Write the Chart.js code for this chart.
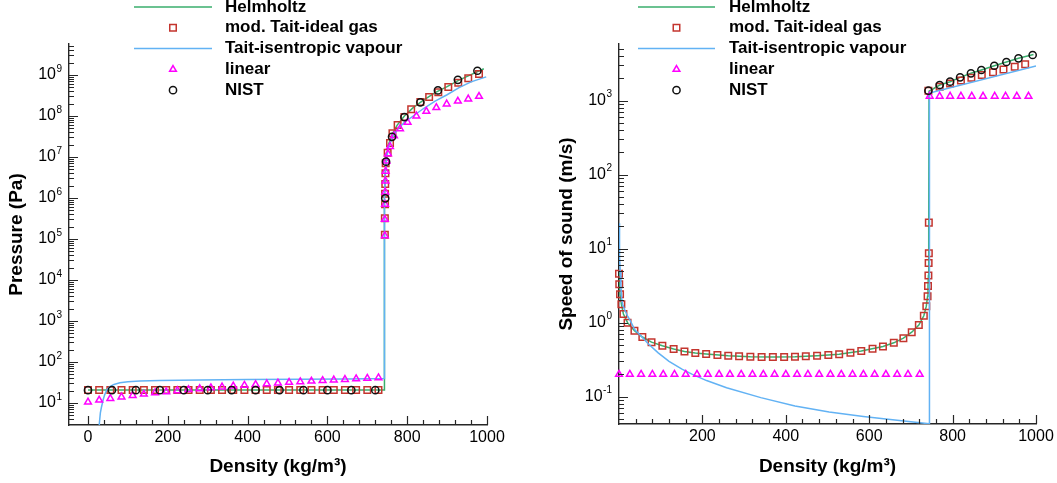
<!DOCTYPE html>
<html>
<head>
<meta charset="utf-8">
<script src="https://cdn.jsdelivr.net/npm/chart.js@4.4.0/dist/chart.umd.min.js"></script>
<style>
  html, body { margin: 0; background: #fff; }
  #wrap { position: relative; width: 1057px; height: 483px; overflow: hidden; }
  canvas { position: absolute; top: 0; }
  #pressure { left: 0; }
  #sound { left: 528px; }
</style>
</head>
<body>
<div id="wrap">
  <canvas id="pressure" width="528" height="483"></canvas>
  <canvas id="sound" width="529" height="483"></canvas>
</div>
<script>
// ---- axis ticks ----
const densityTicksP = [0, 200, 400, 600, 800, 1000];
const densityTicksC = [200, 400, 600, 800, 1000];
const pressureExponents = [1, 2, 3, 4, 5, 6, 7, 8, 9];
const soundExponents = [-1, 0, 1, 2, 3];

// ---- pressure (Pa) vs density (kg/m3) ----
const pHelmRho = [0, 742, 742.5, 743.5, 745, 748, 753, 762, 775, 793, 815, 840, 870, 900, 930, 960, 992];
const pHelm = [20.7, 20.7, 1e5, 1e6, 4e6, 1e7, 2e7, 3.5e7, 6e7, 1e8, 1.6e8, 2.4e8, 3.7e8, 5.2e8, 7.5e8, 1.02e9, 1.42e9];

const pTaitRho = [0, 28, 56, 84, 112, 140, 168, 196, 224, 252, 280, 308, 336, 364, 392, 420, 448, 476, 504, 532,
  560, 588, 616, 644, 672, 700, 728, 744, 744, 744.5, 744.5, 745, 745.5, 746, 751, 757, 763, 776, 793, 810, 833,
  855, 878, 903, 928, 953, 980];
const pTait = [20.7, 20.7, 20.7, 20.7, 20.7, 20.7, 20.7, 20.7, 20.7, 20.7, 20.7, 20.7, 20.7, 20.7, 20.7, 20.7,
  20.7, 20.7, 20.7, 20.7, 20.7, 20.7, 20.7, 20.7, 20.7, 20.7, 20.7, 1.26e5, 3.2e5, 7e5, 1.26e6, 2.2e6, 4e6, 7e6,
  1.26e7, 2.2e7, 3.8e7, 6e7, 9.4e7, 1.45e8, 2.2e8, 2.9e8, 3.8e8, 5.1e8, 6.5e8, 8.3e8, 1.05e9];

const pVapRho = [27.3, 28.5, 31, 34, 38, 42, 47, 55, 65, 80, 100, 130, 180, 281, 400, 531, 650, 742, 742.5, 743.5,
  745, 748, 753, 762, 775, 793, 815, 840, 870, 900, 930, 960, 998];
const pVap = [1.5, 3.2, 5.7, 8.1, 12, 16, 20.7, 25, 28.3, 31, 32.8, 34.2, 35.4, 36.4, 37.2, 37.8, 38.6, 39.5, 1e5,
  1e6, 4e6, 9e6, 1.7e7, 2.8e7, 4.6e7, 7e7, 1e8, 1.5e8, 2.3e8, 3.3e8, 4.9e8, 6.8e8, 9e8];

const pLinRho = [0, 28, 56, 84, 112, 140, 168, 196, 224, 252, 280, 308, 336, 364, 392, 420, 448, 476, 504, 532,
  560, 588, 616, 644, 672, 700, 728, 744, 744, 744.5, 745, 745.5, 746, 748, 752, 757, 767, 782, 801, 823, 848,
  873, 899, 927, 953, 980];
const pLin = [10.5, 11.7, 12.9, 14.0, 15.2, 16.4, 17.6, 18.7, 19.9, 21.1, 22.3, 23.4, 24.6, 25.8, 27.0, 28.1, 29.3,
  30.5, 31.7, 32.8, 34.0, 35.2, 36.4, 37.5, 38.7, 39.9, 41.1, 1.2e5, 3e5, 7e5, 1.4e6, 2.6e6, 4.5e6, 8e6, 1.2e7,
  1.8e7, 3.3e7, 4.9e7, 7e7, 1e8, 1.3e8, 1.6e8, 1.96e8, 2.3e8, 2.6e8, 3e8];

const pNistRho = [0, 60, 120, 180, 240, 300, 360, 420, 480, 540, 600, 660, 720, 745, 747, 762, 793, 833, 877, 927, 976];
const pNist = [20.5, 20.5, 20.5, 20.5, 20.5, 20.5, 20.5, 20.5, 20.5, 20.5, 20.5, 20.5, 20.5, 9.8e5, 7.7e6, 3.1e7,
  9.4e7, 2.15e8, 4.2e8, 7.6e8, 1.27e9];

// ---- speed of sound (m/s) vs density (kg/m3) ----
const cHelmRho = [0, 1, 2.5, 5.7, 10.6, 20.5, 37, 56, 78, 104, 131, 157, 183, 209, 262, 315, 369, 422, 475, 528,
  581, 633, 659, 682, 702, 719, 731, 737, 740, 741, 742, 742.5, 743, 743.5, 769, 794, 818, 844, 869, 900, 929, 958, 994];
const cHelm = [5.2, 3.3, 2.42, 1.78, 1.31, 1.0, 0.78, 0.64, 0.545, 0.487, 0.44, 0.409, 0.389, 0.377, 0.358, 0.347,
  0.343, 0.347, 0.358, 0.373, 0.413, 0.477, 0.534, 0.617, 0.743, 0.93, 1.24, 1.67, 2.28, 3.13, 4.35, 6.4, 22.5,
  1340, 1630, 1807, 2070, 2345, 2600, 2970, 3335, 3740, 4200];

const cTaitRho = [0, 0.6, 2.5, 5.7, 10.6, 20.5, 37, 56, 78, 104, 131, 157, 183, 209, 236, 262, 288, 315, 342, 369,
  396, 422, 448, 475, 502, 528, 555, 581, 608, 633, 659, 682, 702, 719, 731, 737, 740, 741, 742, 742.5, 743, 743,
  742, 769, 794, 820, 845, 870, 897, 922, 949, 974];
const cTait = [4.58, 3.3, 2.42, 1.78, 1.31, 1.0, 0.78, 0.64, 0.545, 0.487, 0.44, 0.409, 0.389, 0.377, 0.365, 0.358,
  0.351, 0.347, 0.343, 0.343, 0.343, 0.347, 0.351, 0.358, 0.365, 0.373, 0.392, 0.413, 0.444, 0.477, 0.534, 0.617,
  0.743, 0.93, 1.24, 1.67, 2.28, 3.13, 4.35, 6.4, 8.7, 22.5,
  1365, 1540, 1710, 1880, 2050, 2230, 2420, 2640, 2870, 3120];

const cVapRho = [0.2, 0.6, 1.2, 2, 3, 4.5, 6.5, 9, 14, 20, 26, 38, 53, 70, 94, 120, 151, 176, 210, 258, 340, 422,
  504, 586, 667, 744, 744.5, 1000];
const cVap = [22, 15, 10.5, 7.5, 5, 3.2, 2.1, 1.75, 1.48, 1.25, 1.09, 0.8, 0.66, 0.52, 0.39, 0.3, 0.235, 0.2,
  0.165, 0.132, 0.097, 0.075, 0.062, 0.054, 0.048, 0.043, 1270, 2950];

const cLinRho = [0, 26, 53, 80, 106, 133, 160, 187, 213, 240, 266, 293, 320, 346, 373, 400, 427, 453, 480, 507, 533,
  560, 586, 613, 640, 667, 693, 721, 745, 769, 794, 820, 846, 873, 901, 927, 954, 982];
const cLin = [0.2, 0.2, 0.2, 0.2, 0.2, 0.2, 0.2, 0.2, 0.2, 0.2, 0.2, 0.2, 0.2, 0.2, 0.2, 0.2, 0.2, 0.2, 0.2, 0.2,
  0.2, 0.2, 0.2, 0.2, 0.2, 0.2, 0.2, 0.2, 1150, 1150, 1150, 1150, 1150, 1150, 1150, 1150, 1150, 1150];

const cNistRho = [742, 769, 794, 818, 844, 869, 900, 929, 958, 992];
const cNist = [1365, 1630, 1807, 2070, 2345, 2600, 2970, 3335, 3740, 4150];

// ---- styling ----
const FONT = '"Liberation Sans", Arial, Helvetica, sans-serif';
const AXIS = '#262626';
const GREEN = '#3aae6c';
const BLUE = '#62b2f4';
const RED = '#c4352e';
const MAGENTA = '#ff00ff';
const BLACK = '#111111';

Chart.defaults.font.family = FONT;
Chart.defaults.color = '#000';

function pairs(xs, ys) {
  return xs.map((x, i) => ({ x, y: ys[i] }));
}

function lineSet(label, xs, ys, color, order) {
  return {
    label, order, data: pairs(xs, ys), showLine: true,
    borderColor: color, borderWidth: 1.5, pointRadius: 0, pointHoverRadius: 0
  };
}

function markSet(label, xs, ys, color, style, radius, order) {
  return {
    label, order, data: pairs(xs, ys), showLine: false, clip: false,
    pointStyle: style, pointRadius: radius, pointHoverRadius: radius,
    pointBorderColor: color, borderColor: color, pointBorderWidth: 1.5,
    pointBackgroundColor: 'rgba(0,0,0,0)'
  };
}

// hollow marker with the same geometry chart.js uses for its point styles
function drawMarker(ctx, style, x, y, r, color, width) {
  ctx.save();
  ctx.strokeStyle = color;
  ctx.lineWidth = width;
  ctx.beginPath();
  if (style === 'rect') {
    const s = r / Math.SQRT2;
    ctx.rect(x - s, y - s, 2 * s, 2 * s);
  } else if (style === 'triangle') {
    let a = 0;
    ctx.moveTo(x + Math.sin(a) * r, y - Math.cos(a) * r);
    a += 2 * Math.PI / 3;
    ctx.lineTo(x + Math.sin(a) * r, y - Math.cos(a) * r);
    a += 2 * Math.PI / 3;
    ctx.lineTo(x + Math.sin(a) * r, y - Math.cos(a) * r);
    ctx.closePath();
  } else {
    ctx.arc(x, y, r, 0, 2 * Math.PI);
  }
  ctx.stroke();
  ctx.restore();
}

// legend block drawn over the top of each panel
const panelLegend = {
  id: 'panelLegend',
  afterDraw(chart, args, opts) {
    const ctx = chart.ctx;
    ctx.save();
    ctx.font = 'bold 17px ' + FONT;
    ctx.textBaseline = 'middle';
    ctx.textAlign = 'left';
    chart.data.datasets.forEach((ds, i) => {
      const y = opts.top + i * opts.rowGap;
      if (ds.showLine) {
        ctx.strokeStyle = ds.borderColor;
        ctx.lineWidth = ds.borderWidth;
        ctx.beginPath();
        ctx.moveTo(opts.x0, y);
        ctx.lineTo(opts.x1, y);
        ctx.stroke();
      } else {
        drawMarker(ctx, ds.pointStyle, (opts.x0 + opts.x1) / 2, y, ds.pointRadius, ds.pointBorderColor, ds.pointBorderWidth);
      }
      ctx.fillStyle = '#000';
      ctx.fillText(ds.label, opts.textX, y);
    });
    ctx.restore();
  }
};

// inward tick marks (major + minor) and 10^n labels on the log axis
const axisTicks = {
  id: 'axisTicks',
  afterDatasetsDraw(chart, args, opts) {
    const { ctx, chartArea: area, scales: { x, y } } = chart;
    ctx.save();
    ctx.strokeStyle = AXIS;
    ctx.lineWidth = 1.2;
    ctx.beginPath();
    for (let v = 0; v <= x.max + 1e-6; v += opts.minorStep) {
      const px = Math.round(x.getPixelForValue(v)) + 0.5;
      if (px <= area.left + 1) continue;
      const len = v % opts.majorStep === 0 ? 9 : 5;
      ctx.moveTo(px, area.bottom);
      ctx.lineTo(px, area.bottom - len);
    }
    const eLo = Math.floor(Math.log10(y.min));
    const eHi = Math.ceil(Math.log10(y.max));
    for (let e = eLo; e <= eHi; e++) {
      for (let k = 1; k <= 9; k++) {
        const v = k * Math.pow(10, e);
        if (v < y.min || v > y.max) continue;
        const py = Math.round(y.getPixelForValue(v)) + 0.5;
        const len = k === 1 ? 9 : 5;
        ctx.moveTo(area.left, py);
        ctx.lineTo(area.left + len, py);
      }
    }
    ctx.stroke();

    const baseFont = '16px ' + FONT;
    const supFont = '10px ' + FONT;
    ctx.fillStyle = '#000';
    ctx.textBaseline = 'middle';
    ctx.textAlign = 'left';
    opts.exponents.forEach(e => {
      const py = y.getPixelForValue(Math.pow(10, e));
      const exp = String(e);
      ctx.font = supFont;
      const ew = ctx.measureText(exp).width;
      ctx.font = baseFont;
      const bw = ctx.measureText('10').width;
      const right = area.left - opts.labelGap;
      ctx.fillText('10', right - ew - bw - 0.5, py);
      ctx.font = supFont;
      ctx.fillText(exp, right - ew, py - 6);
    });
    ctx.restore();
  }
};

function makePanel(canvasId, cfg) {
  const titleFont = { family: FONT, size: 19, weight: 'bold' };
  new Chart(document.getElementById(canvasId), {
    type: 'scatter',
    data: { datasets: cfg.datasets },
    plugins: [axisTicks, panelLegend],
    options: {
      responsive: false,
      animation: false,
      events: [],
      layout: { padding: { top: 44, right: cfg.padRight, left: 0, bottom: 0 } },
      plugins: {
        legend: { display: false },
        tooltip: { enabled: false },
        axisTicks: { minorStep: 40, majorStep: 200, labelGap: 7, exponents: cfg.exponents },
        panelLegend: cfg.legend
      },
      scales: {
        x: {
          type: 'linear',
          min: cfg.xMin,
          max: 1000,
          afterBuildTicks: s => { s.ticks = cfg.xTicks.map(v => ({ value: v })); },
          afterFit: s => { s.height = cfg.xHeight; },
          ticks: {
            font: { family: FONT, size: 16 }, color: '#000', padding: 3,
            maxRotation: 0, autoSkip: false, callback: v => String(v)
          },
          grid: { display: false, drawTicks: false },
          border: { display: true, color: AXIS, width: 1.4 },
          title: { display: true, text: 'Density (kg/m³)', font: titleFont, color: '#000', padding: { top: 0, bottom: 5 } }
        },
        y: {
          type: 'logarithmic',
          min: cfg.yMin,
          max: cfg.yMax,
          afterBuildTicks: s => { s.ticks = cfg.exponents.map(e => ({ value: Math.pow(10, e) })); },
          afterFit: s => { s.width = cfg.yWidth; },
          ticks: { display: false },
          grid: { display: false, drawTicks: false },
          border: { display: true, color: AXIS, width: 1.4 },
          title: { display: true, text: cfg.yTitle, font: titleFont, color: '#000', padding: { top: cfg.yTitlePad, bottom: 0 } }
        }
      }
    }
  });
}

makePanel('pressure', {
  xMin: -47.6, xTicks: densityTicksP, xHeight: 58,
  yMin: 2.9, yMax: 5.7e9, yWidth: 69, yTitle: 'Pressure (Pa)', yTitlePad: 5,
  exponents: pressureExponents, padRight: 41,
  legend: { x0: 134, x1: 212, textX: 225, top: 7, rowGap: 20.8 },
  datasets: [
    lineSet('Helmholtz', pHelmRho, pHelm, GREEN, 5),
    markSet('mod. Tait-ideal gas', pTaitRho, pTait, RED, 'rect', 4.6, 4),
    lineSet('Tait-isentropic vapour', pVapRho, pVap, BLUE, 3),
    markSet('linear', pLinRho, pLin, MAGENTA, 'triangle', 3.9, 2),
    markSet('NIST', pNistRho, pNist, BLACK, 'circle', 3.6, 1)
  ]
});

makePanel('sound', {
  xMin: 0, xTicks: densityTicksC, xHeight: 59,
  yMin: 0.0427, yMax: 5840, yWidth: 91, yTitle: 'Speed of sound (m/s)', yTitlePad: 27,
  exponents: soundExponents, padRight: 21,
  legend: { x0: 110, x1: 187, textX: 201, top: 7, rowGap: 20.8 },
  datasets: [
    lineSet('Helmholtz', cHelmRho, cHelm, GREEN, 5),
    markSet('mod. Tait-ideal gas', cTaitRho, cTait, RED, 'rect', 4.6, 4),
    lineSet('Tait-isentropic vapour', cVapRho, cVap, BLUE, 3),
    markSet('linear', cLinRho, cLin, MAGENTA, 'triangle', 3.9, 2),
    markSet('NIST', cNistRho, cNist, BLACK, 'circle', 3.6, 1)
  ]
});
</script>
</body>
</html>
